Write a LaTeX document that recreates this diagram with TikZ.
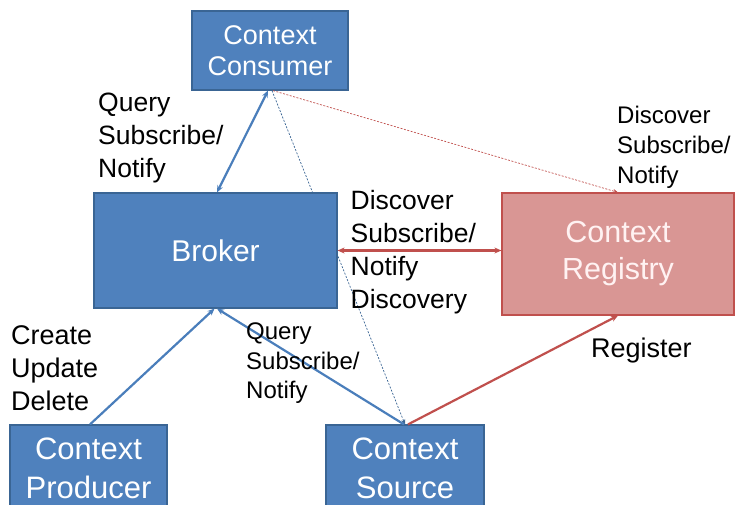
\documentclass[tikz,border=0pt]{standalone}
\usepackage{fontspec}
\setmainfont{Liberation Sans}
\usetikzlibrary{arrows.meta,backgrounds}
\definecolor{bfill}{HTML}{4F81BD}
\definecolor{bdraw}{HTML}{3A6594}
\definecolor{rfill}{HTML}{D99694}
\definecolor{rdraw}{HTML}{C0504D}
\definecolor{bline}{HTML}{4A7EBB}
\definecolor{rline}{HTML}{C0504D}
\begin{document}
\begin{tikzpicture}[x=1pt,y=-1pt,
  bbox/.style={draw=bdraw, line width=1.2pt, fill=bfill, text=white, align=center, inner sep=0pt},
  rbox/.style={draw=rdraw, line width=1.2pt, fill=rfill, text=white!95!red, align=center, inner sep=0pt},
  lbl/.style={align=left, anchor=north west, inner sep=0pt, text=black},
  bl/.style={draw=bline, line width=2.2pt},
  rl/.style={draw=rline, line width=2.2pt},
  dl/.style={line width=0.7pt, dashed, dash pattern=on 2pt off 1.5pt},
  tip/.style={-{Stealth[length=7pt,width=6pt]}},
  tips/.style={{Stealth[length=7pt,width=6pt]}-{Stealth[length=7pt,width=6pt]}},
  stip/.style={-{Stealth[length=5pt,width=4pt]}}
]
\useasboundingbox (0,0) rectangle (736,504);
\clip (0,0) rectangle (736,504);

\node[bbox, minimum width=156pt, minimum height=79pt, font=\fontsize{27}{31}\selectfont] (consumer) at (270,50.5) {Context\\Consumer};
\node[bbox, minimum width=243pt, minimum height=115pt, font=\fontsize{30}{36}\selectfont] (broker) at (215.5,250.5) {Broker};
\node[rbox, minimum width=232pt, minimum height=122pt, font=\fontsize{30.5}{37}\selectfont] (registry) at (618,254) {Context\\Registry};
\node[bbox, minimum width=157pt, minimum height=86pt, font=\fontsize{31}{39}\selectfont] (producer) at (88.5,468) {Context\\Producer};
\node[bbox, minimum width=158pt, minimum height=86pt, font=\fontsize{31}{39}\selectfont] (source) at (405,468) {Context\\Source};

\begin{scope}[on background layer]
  \draw[dl, draw=bdraw, stip] ([xshift=2pt]consumer.south) -- (source.north);
\end{scope}
\draw[dl, draw=rline, stip] ([xshift=3pt]consumer.south) -- (registry.north);
\draw[bl, tips] ([xshift=-2pt]consumer.south) -- ([xshift=1.5pt]broker.north);
\draw[rl, tips] (broker.east) -- (broker.east -| registry.west);
\draw[bl, tip] ([xshift=1.5pt]producer.north) -- ([xshift=-1pt]broker.south);
\draw[bl, tip] ([xshift=-1pt]source.north) -- ([xshift=1.5pt]broker.south);
\draw[rl, tip] ([xshift=3pt]source.north) -- (registry.south);

\node[lbl, font=\fontsize{26.5}{33}\selectfont] (l1) at (98,93) {Query\\Subscribe/\\Notify};
\node[lbl, font=\fontsize{24}{30}\selectfont] (l2) at (617,106) {Discover\\Subscribe/\\Notify};
\node[lbl, font=\fontsize{26.5}{33}\selectfont] (l3) at (350.5,190) {Discover\\Subscribe/\\Notify\\Discovery};
\node[lbl, font=\fontsize{27}{33}\selectfont] (l4) at (11,325.5) {Create\\Update\\Delete};
\node[lbl, font=\fontsize{24}{29.5}\selectfont] (l5) at (246,323) {Query\\Subscribe/\\Notify};
\node[lbl, font=\fontsize{27}{33}\selectfont] (l6) at (591,338) {Register};
\end{tikzpicture}
\end{document}
